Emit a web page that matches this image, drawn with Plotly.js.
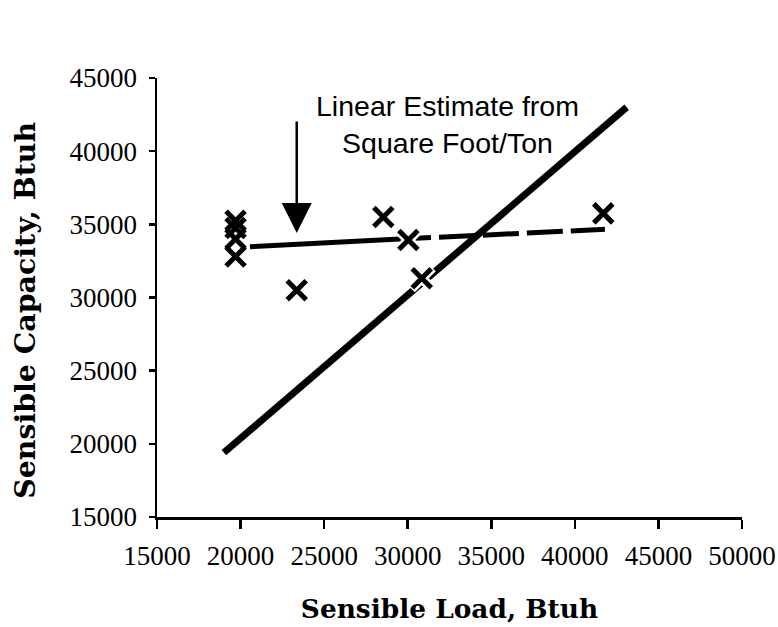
<!DOCTYPE html>
<html><head><meta charset="utf-8">
<script src="https://cdn.plot.ly/plotly-3.0.1.min.js"></script>
<style>html,body{margin:0;padding:0;background:#fff}#chart{width:778px;height:627px}</style>
</head><body><div id="chart"></div>
<script>
// Axis ticks
const xTicks = [15000, 20000, 25000, 30000, 35000, 40000, 45000, 50000];
const yTicks = [15000, 20000, 25000, 30000, 35000, 40000, 45000];

// Measured units: sensible load vs sensible capacity (Btuh)
const measuredLoad     = [19700, 19700, 19700, 19700, 23360, 28540, 30040, 30840, 41700];
const measuredCapacity = [35250, 34000, 34750, 32800, 30500, 35500, 33930, 31310, 35750];

// Fitted trend through measured units (solid part, dashed part)
const trendSolidLoad = [20560, 29240];
const trendSolidCap  = [33470, 33975];
const trendDashLoad  = [29240, 41800];
const trendDashCap   = [33975, 34660];

// Linear estimate from square foot / ton
const estimateLoad = [19000, 43100];
const estimateCap  = [19400, 43000];

// Arrow pointing to the trend line
const arrowLoad = 23360;
const arrowTip  = 34400;
const arrowTail = 42130;

const traces = [
  {x: estimateLoad, y: estimateCap, mode: 'lines', line: {color: '#000', width: 7}, hoverinfo: 'skip'},
  {x: trendSolidLoad, y: trendSolidCap, mode: 'lines', line: {color: '#000', width: 5}, hoverinfo: 'skip'},
  {x: trendDashLoad, y: trendDashCap, mode: 'lines', line: {color: '#000', width: 5, dash: '36px,8px'}, hoverinfo: 'skip'},
  // white halo behind the crosses
  {x: measuredLoad, y: measuredCapacity, mode: 'markers', hoverinfo: 'skip',
   marker: {symbol: 'x-thin', size: 21, color: '#fff', line: {color: '#fff', width: 10}}},
  {x: measuredLoad, y: measuredCapacity, mode: 'markers',
   marker: {symbol: 'x-thin', size: 19, color: '#000', line: {color: '#000', width: 5}}}
];

const tickFont = {family: '"Liberation Serif", "Times New Roman", serif', size: 27, color: '#000'};

const layout = {
  width: 778, height: 627,
  margin: {l: 157, r: 36, t: 78, b: 110},
  paper_bgcolor: '#fff', plot_bgcolor: '#fff',
  showlegend: false,
  xaxis: {
    range: [15000, 50000], tickvals: xTicks, ticktext: xTicks.map(String),
    showgrid: false, zeroline: false, showline: true, linecolor: '#000', linewidth: 2.5,
    ticks: 'outside', ticklen: 9, tickwidth: 2.5, tickcolor: '#000',
    tickfont: tickFont, ticklabelstandoff: 4,
    title: {text: 'Sensible Load, Btuh', standoff: 30,
            font: {family: '"DejaVu Serif", serif', size: 26.4, color: '#000', weight: 'bold'}}
  },
  yaxis: {
    range: [15000, 45000], tickvals: yTicks, ticktext: yTicks.map(String),
    showgrid: false, zeroline: false, showline: true, linecolor: '#000', linewidth: 2.5,
    ticks: 'outside', ticklen: 6, tickwidth: 2.5, tickcolor: '#000',
    tickfont: tickFont, ticklabelstandoff: 6
  },
  xaxis2: {
    overlaying: 'x', range: [15000, 50000], tickvals: xTicks, showticklabels: false,
    showgrid: false, zeroline: false, showline: false,
    ticks: 'inside', ticklen: 9, tickwidth: 2.5, tickcolor: '#000'
  },
  yaxis2: {
    overlaying: 'y', range: [15000, 45000], tickvals: yTicks, showticklabels: false,
    showgrid: false, zeroline: false, showline: false,
    ticks: 'inside', ticklen: 12, tickwidth: 2.5, tickcolor: '#000'
  },
  annotations: [
    {xref: 'paper', yref: 'paper', x: -0.226, y: 0.4715, showarrow: false,
     text: '<b>Sensible Capacity, Btuh</b>', textangle: -90,
     font: {family: '"DejaVu Serif", serif', size: 28.4, color: '#000'},
     xanchor: 'center', yanchor: 'middle'},
    {xref: 'paper', yref: 'paper', x: 0.497, y: 0.895, showarrow: false,
     text: 'Linear Estimate from<br>Square Foot/Ton',
     font: {family: '"Liberation Sans", Arial, sans-serif', size: 28.5, color: '#000'},
     align: 'center', xanchor: 'center', yanchor: 'middle'},
    {xref: 'x', yref: 'y', axref: 'x', ayref: 'y', x: arrowLoad, y: arrowTip,
     ax: arrowLoad, ay: arrowTail, text: '', showarrow: true,
     arrowhead: 2, arrowsize: 2.4, arrowwidth: 2.5, arrowcolor: '#000', standoff: 0}
  ]
};

Plotly.newPlot('chart', traces, layout, {displayModeBar: false, staticPlot: true});
</script>
</body></html>
